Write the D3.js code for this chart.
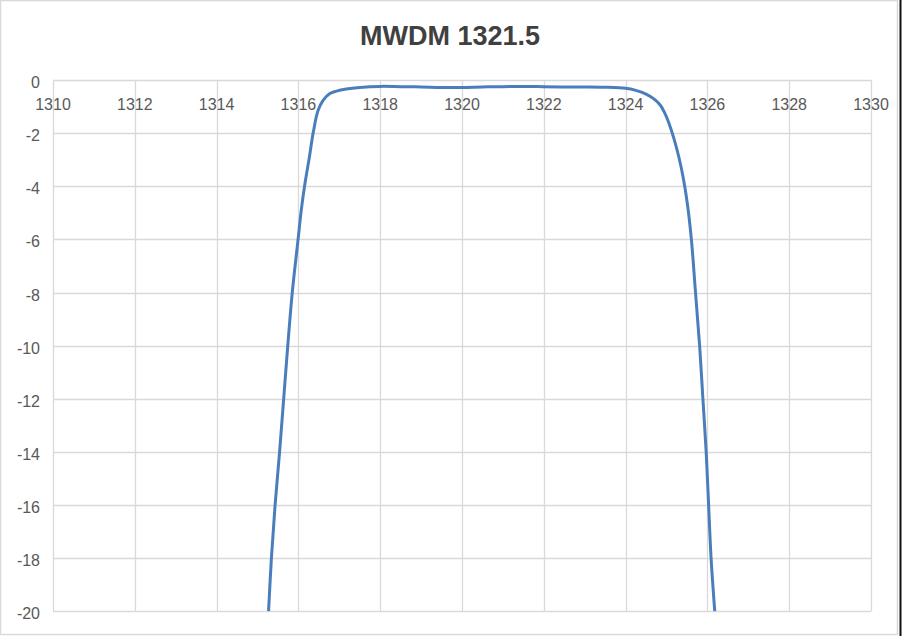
<!DOCTYPE html>
<html><head><meta charset="utf-8">
<script src="https://cdn.jsdelivr.net/npm/d3@7"></script>
<style>html,body{margin:0;padding:0;background:#fff;}svg{display:block;}</style>
</head><body>
<script>
const title = "MWDM 1321.5";
const wavelength = [1315.27,1315.34,1315.43,1315.54,1315.64,1315.74,1315.85,1315.99,1316.07,1316.15,1316.27,1316.36,1316.48,1316.60,1316.76,1316.93,1317.17,1317.5,1318.0,1318.5,1319.0,1319.5,1320.0,1320.5,1321.0,1321.5,1322.0,1322.5,1323.0,1323.5,1324.0,1324.25,1324.5,1324.7,1324.85,1324.95,1325.06,1325.18,1325.30,1325.42,1325.52,1325.61,1325.71,1325.81,1325.89,1325.97,1326.03,1326.09,1326.18];
const loss = [-20,-18,-16,-14,-12,-10,-8,-6.03,-4.9,-4.0,-2.89,-2.0,-1.15,-0.78,-0.52,-0.42,-0.34,-0.28,-0.24,-0.25,-0.26,-0.28,-0.28,-0.26,-0.25,-0.24,-0.25,-0.26,-0.26,-0.27,-0.31,-0.39,-0.53,-0.72,-0.95,-1.22,-1.63,-2.2,-2.89,-3.77,-4.77,-6.03,-8.01,-10.0,-12.0,-14.0,-16.0,-18.0,-20];
const xTicks = [1310,1312,1314,1316,1318,1320,1322,1324,1326,1328,1330];
const yTicks = [0,-2,-4,-6,-8,-10,-12,-14,-16,-18,-20];

const W = 902, H = 636;
const svg = d3.select("body").append("svg").attr("width", W).attr("height", H);
svg.append("rect").attr("width", W).attr("height", H).attr("fill", "#fff");
svg.append("rect").attr("x", 0.5).attr("y", 0.5).attr("width", 897).attr("height", 634)
  .attr("fill", "none").attr("stroke", "#d9d9d9").attr("stroke-width", 1.5);
svg.append("line").attr("x1", 900.5).attr("x2", 900.5).attr("y1", 0).attr("y2", H)
  .attr("stroke", "#111").attr("stroke-width", 2);

const x = d3.scaleLinear().domain([1310, 1330]).range([53, 871]);
const y = d3.scaleLinear().domain([0, -20]).range([80, 611.3]);

const grid = svg.append("g");
grid.selectAll("line.h").data(yTicks).join("line").attr("class", "h")
  .attr("x1", x(1310)).attr("x2", x(1330))
  .attr("y1", d => Math.round(y(d)) + 0.5).attr("y2", d => Math.round(y(d)) + 0.5)
  .attr("stroke", "#d9d9d9").attr("stroke-width", 1.3);
grid.selectAll("line.v").data(xTicks).join("line").attr("class", "v")
  .attr("x1", d => Math.round(x(d)) + 0.5).attr("x2", d => Math.round(x(d)) + 0.5)
  .attr("y1", y(0)).attr("y2", y(-20))
  .attr("stroke", "#d9d9d9").attr("stroke-width", 1.3);

const font = "'Liberation Sans', Arial, sans-serif";
svg.append("g").selectAll("text").data(xTicks).join("text")
  .attr("x", d => x(d)).attr("y", 110)
  .attr("text-anchor", "middle").attr("font-family", font).attr("font-size", 16)
  .attr("fill", "#595959").text(d => d);
svg.append("g").selectAll("text").data(yTicks).join("text")
  .attr("x", 40).attr("y", d => y(d) + 8)
  .attr("text-anchor", "end").attr("font-family", font).attr("font-size", 16)
  .attr("fill", "#595959").text(d => d === 0 ? "0" : "-" + Math.abs(d));

svg.append("text").attr("x", 450).attr("y", 45).attr("text-anchor", "middle")
  .attr("font-family", font).attr("font-weight", "bold").attr("font-size", 27)
  .attr("fill", "#404040").text(title);

svg.append("clipPath").attr("id", "clip").append("rect")
  .attr("x", x(1310)).attr("y", y(0) - 2).attr("width", x(1330) - x(1310)).attr("height", y(-20) - y(0) + 2);
const pts = wavelength.map((w, i) => [w, loss[i]]);
svg.append("path").datum(pts).attr("clip-path", "url(#clip)")
  .attr("d", d3.line().x(d => x(d[0])).y(d => y(d[1])).curve(d3.curveCatmullRom.alpha(0.5)))
  .attr("fill", "none").attr("stroke", "#4a7ebb").attr("stroke-width", 3).attr("stroke-linejoin", "round");
</script>
</body></html>
